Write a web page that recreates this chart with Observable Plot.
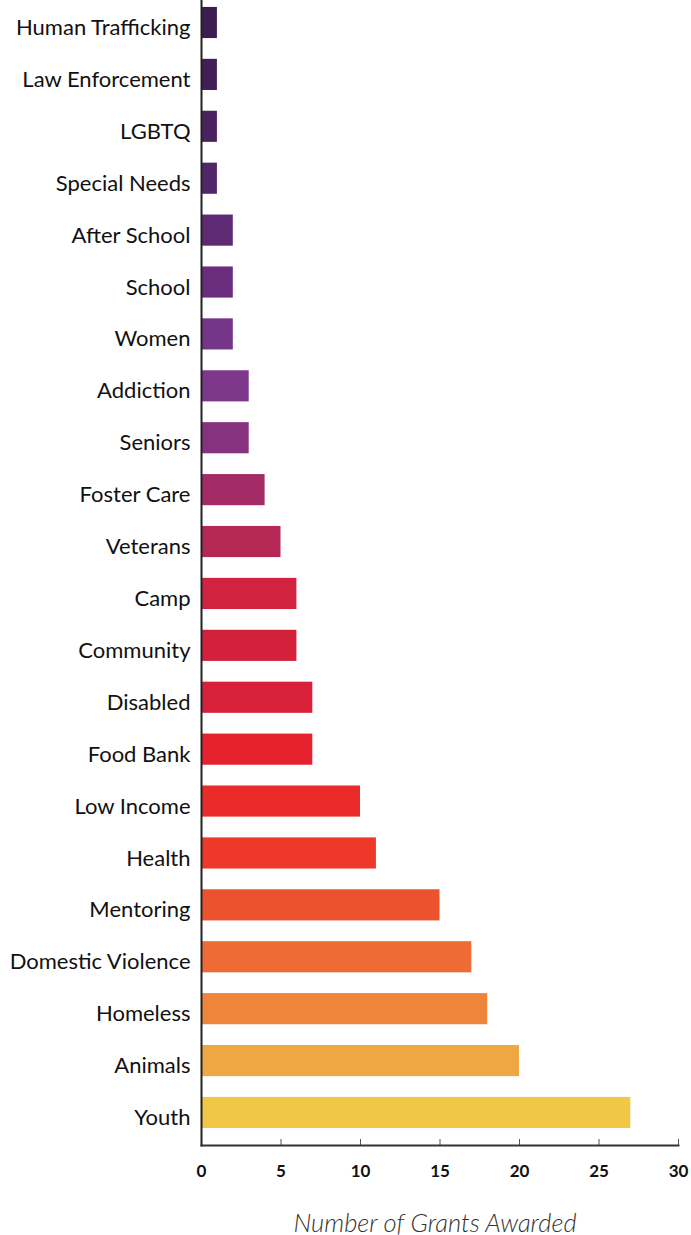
<!DOCTYPE html>
<html>
<head>
<meta charset="utf-8">
<script src="https://cdn.jsdelivr.net/npm/d3@7"></script>
<script src="https://cdn.jsdelivr.net/npm/@observablehq/plot@0.6"></script>
<style>
  html, body { margin: 0; padding: 0; background: #fff; }
  #chart svg { display: block; }
</style>
</head>
<body>
<div id="chart"></div>
<script>
const categories = ["Human Trafficking", "Law Enforcement", "LGBTQ", "Special Needs", "After School", "School", "Women", "Addiction", "Seniors", "Foster Care", "Veterans", "Camp", "Community", "Disabled", "Food Bank", "Low Income", "Health", "Mentoring", "Domestic Violence", "Homeless", "Animals", "Youth"];
const grants = [1, 1, 1, 1, 2, 2, 2, 3, 3, 4, 5, 6, 6, 7, 7, 10, 11, 15, 17, 18, 20, 27];
const barColors = ["#3d1c4f", "#431d55", "#4a225e", "#502668", "#5f2a74", "#6a2d7d", "#753588", "#7d388b", "#87327f", "#a42b66", "#b52755", "#d12240", "#d3213c", "#d8203a", "#e4212d", "#ea2b2a", "#ee3829", "#ec522d", "#ee6b35", "#ef853a", "#efa744", "#f1c846"];
const xTicks = [0, 5, 10, 15, 20, 25, 30];
const xTitle = "Number of Grants Awarded";

const data = categories.map((c, i) => ({category: c, value: grants[i], color: barColors[i]}));

const chart = Plot.plot({
  width: 691,
  height: 1235,
  marginTop: 0,
  marginBottom: 90,
  marginLeft: 201,
  marginRight: 13,
  style: {fontFamily: "Lato, 'Noto Sans', sans-serif", background: "#fff"},
  x: {domain: [0, 30], axis: null},
  y: {domain: categories, paddingInner: 0.4, paddingOuter: 0.23, align: 0.29, round: false, axis: null},
  marks: [
    Plot.barX(data, {y: "category", x: "value", fill: "color", insetLeft: 1}),
    Plot.axisY({tickSize: 0, tickPadding: 11, fontSize: 22, fill: "#111", label: null, dy: 5}),
    Plot.axisX(xTicks, {tickSize: -6, tickPadding: 25, fontSize: 17, fontWeight: "bold", fill: "#111", stroke: "#555", label: null, tickFormat: d => String(d)}),
    Plot.frame({anchor: "left", stroke: "#222", strokeWidth: 2}),
    Plot.frame({anchor: "bottom", stroke: "#333", strokeWidth: 2}),
    Plot.text([xTitle], {frameAnchor: "bottom", dx: -5, dy: 86, fontSize: 25.5, fontStyle: "italic", fontWeight: 300, fill: "#333"})
  ]
});
document.getElementById("chart").appendChild(chart);
</script>
</body>
</html>
